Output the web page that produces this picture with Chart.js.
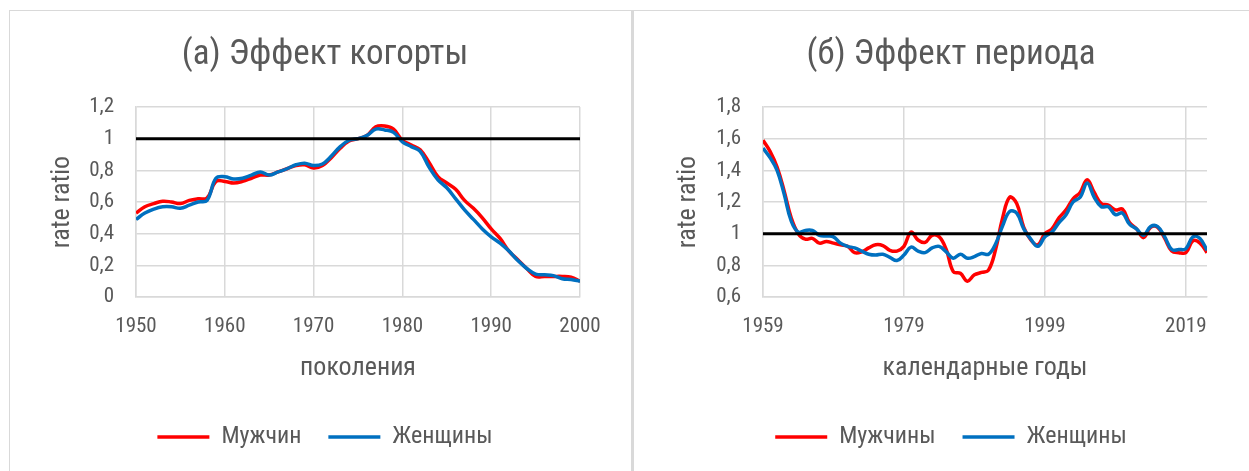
<!DOCTYPE html>
<html>
<head>
<meta charset="utf-8">
<script src="https://cdn.jsdelivr.net/npm/chart.js@4.4.1/dist/chart.umd.min.js"></script>
<style>
  body{margin:0;background:#fff;width:1249px;height:471px;overflow:hidden;position:relative}
  #frame{position:absolute;left:9px;top:10px;width:1240px;height:461px;border-left:1px solid #d9d9d9;border-top:1px solid #d9d9d9}
  #sep{position:absolute;left:631px;top:10px;width:3px;height:461px;background:#d9d9d9}
  canvas{position:absolute;top:11px}
  #cohort-canvas{left:10px}
  #period-canvas{left:636px}
</style>
</head>
<body>
<div id="frame"></div>
<div id="sep"></div>
<canvas id="cohort-canvas" width="620" height="460"></canvas>
<canvas id="period-canvas" width="613" height="460"></canvas>
<script>
// (a) cohort effect, birth years 1950..2000
const cohort_years = [];
for(let y = 1950; y <= 2000; y++) cohort_years.push(y);
const cohort_men = [
  0.53,0.57,0.59,0.605,0.60,0.59,0.61,0.62,0.625,0.73,
  0.73,0.72,0.73,0.75,0.77,0.77,0.79,0.81,0.83,0.835,
  0.815,0.83,0.88,0.94,0.985,1.00,1.02,1.075,1.08,1.06,
  0.99,0.96,0.93,0.85,0.76,0.72,0.68,0.61,0.56,0.50,
  0.43,0.37,0.29,0.235,0.18,0.13,0.13,0.13,0.13,0.125,
  0.10];
const cohort_women = [
  0.49,0.53,0.555,0.57,0.57,0.56,0.58,0.60,0.61,0.75,
  0.76,0.745,0.75,0.77,0.79,0.77,0.79,0.81,0.835,0.845,
  0.83,0.84,0.89,0.95,0.99,1.00,1.02,1.06,1.055,1.04,
  0.98,0.95,0.92,0.82,0.74,0.69,0.62,0.55,0.49,0.43,
  0.38,0.34,0.29,0.23,0.18,0.145,0.14,0.135,0.115,0.11,
  0.10];
const cohort_ticks = [1950, 1960, 1970, 1980, 1990, 2000];

// (б) period effect, calendar years 1959..2022
const period_years = [];
for(let y = 1959; y <= 2022; y++) period_years.push(y);
const period_men = [
  1.59,1.52,1.42,1.27,1.10,1.00,0.965,0.97,0.94,0.95,
  0.94,0.93,0.92,0.88,0.885,0.91,0.93,0.925,0.895,0.89,
  0.92,1.01,0.96,0.945,0.99,0.98,0.90,0.76,0.75,0.70,
  0.74,0.755,0.77,0.90,1.10,1.23,1.19,1.04,0.96,0.93,
  1.00,1.03,1.10,1.15,1.22,1.26,1.34,1.26,1.19,1.18,
  1.15,1.155,1.07,1.03,0.975,1.04,1.04,0.97,0.89,0.88,
  0.88,0.955,0.94,0.88];
const period_women = [
  1.54,1.48,1.40,1.25,1.08,1.01,1.02,1.02,0.99,0.985,
  0.98,0.94,0.92,0.91,0.89,0.87,0.865,0.87,0.85,0.83,
  0.865,0.915,0.89,0.88,0.91,0.92,0.885,0.845,0.87,0.845,
  0.855,0.875,0.87,0.935,1.05,1.14,1.13,1.03,0.965,0.92,
  0.98,1.01,1.07,1.12,1.20,1.23,1.32,1.23,1.17,1.17,
  1.12,1.13,1.06,1.03,0.99,1.045,1.045,0.98,0.90,0.90,
  0.905,0.98,0.97,0.895];
const period_ticks = [1959, 1979, 1999, 2019];

const ref_level = 1;
const grey = '#595959';
const grid_grey = '#d9d9d9';

Chart.defaults.font.family = "'Liberation Sans Narrow', 'Roboto Condensed', Roboto, sans-serif";

function to_points(xs, ys){
  return xs.map((x, i) => ({x: x, y: ys[i]}));
}

function fmt_ratio(v){
  return (Math.round(v * 10) / 10).toString().replace('.', ',');
}

function make_chart(id, o){
  const first = o.years[0];
  const last = o.years[o.years.length - 1];
  return new Chart(document.getElementById(id), {
    type: 'line',
    data: {
      datasets: [{
        label: o.men_label,
        data: to_points(o.years, o.men),
        borderColor: '#ff0000',
        backgroundColor: '#ff0000',
        borderWidth: 3.5,
        pointRadius: 0,
        tension: 0.4,
        order: 3
      },{
        label: 'Женщины',
        data: to_points(o.years, o.women),
        borderColor: '#0070c0',
        backgroundColor: '#0070c0',
        borderWidth: 3.5,
        pointRadius: 0,
        tension: 0.4,
        order: 2
      },{
        label: 'ref',
        data: [{x: first, y: ref_level}, {x: last, y: ref_level}],
        borderColor: '#000000',
        borderWidth: 3,
        pointRadius: 0,
        order: 1
      }]
    },
    options: {
      responsive: false,
      animation: false,
      devicePixelRatio: 1,
      layout: {
        padding: {left: o.pad_left, right: o.pad_right, top: 8, bottom: 12}
      },
      plugins: {
        title: {
          display: true,
          text: o.title,
          color: grey,
          font: {size: 35, weight: 'normal'},
          padding: {top: 15, bottom: 31}
        },
        legend: {
          position: 'bottom',
          labels: {
            usePointStyle: true,
            pointStyle: 'line',
            pointStyleWidth: 52,
            padding: 27,
            color: grey,
            font: {size: 24},
            filter: item => item.datasetIndex < 2,
            sort: (a, b) => a.datasetIndex - b.datasetIndex
          }
        },
        tooltip: {enabled: false}
      },
      scales: {
        x: {
          type: 'linear',
          min: first,
          max: last,
          afterBuildTicks: s => { s.ticks = o.xticks.map(v => ({value: v})); },
          afterFit: s => { s.height = 101; },
          grid: {color: grid_grey, lineWidth: 1.5, drawTicks: false},
          border: {color: grid_grey, width: 1.5},
          ticks: {color: grey, font: {size: 21}, padding: 17, maxRotation: 0, autoSkip: false,
                  callback: v => String(v)},
          title: {display: true, text: o.xtitle, color: grey, font: {size: 26}, padding: {top: 0, bottom: 14}}
        },
        y: {
          min: o.ymin,
          max: o.ymax,
          afterFit: s => { s.width = o.y_width; },
          grid: {color: grid_grey, lineWidth: 1.5, drawTicks: false},
          border: {color: grid_grey, width: 1.5},
          ticks: {stepSize: 0.2, color: grey, font: {size: 21}, padding: 22, callback: fmt_ratio},
          title: {display: true, text: 'rate ratio', color: grey, font: {size: 26},
                  padding: {top: o.ytitle_pad, bottom: 0}}
        }
      }
    }
  });
}

make_chart('cohort-canvas', {
  title: '(а) Эффект когорты',
  years: cohort_years, men: cohort_men, women: cohort_women,
  men_label: 'Мужчин',
  xticks: cohort_ticks, xtitle: 'поколения',
  ymin: 0, ymax: 1.2,
  pad_left: 60, pad_right: 50, y_width: 66, ytitle_pad: -23.6
});

make_chart('period-canvas', {
  title: '(б) Эффект периода',
  years: period_years, men: period_men, women: period_women,
  men_label: 'Мужчины',
  xticks: period_ticks, xtitle: 'календарные годы',
  ymin: 0.6, ymax: 1.8,
  pad_left: 59, pad_right: 42, y_width: 68, ytitle_pad: -22.6
});
</script>
</body>
</html>
